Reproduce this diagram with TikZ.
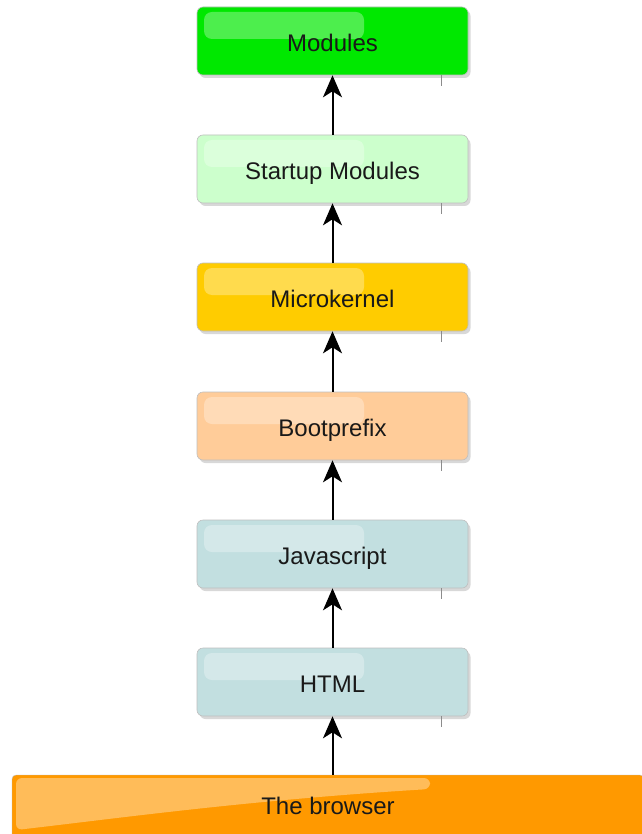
\documentclass[tikz,border=0pt]{standalone}
\usepackage{fontspec}
\setmainfont{Liberation Sans}
\usetikzlibrary{shadows,arrows.meta}
\definecolor{modgreen}{RGB}{0,232,0}
\definecolor{startgreen}{RGB}{204,255,204}
\definecolor{kernelyellow}{RGB}{255,204,0}
\definecolor{bootpeach}{RGB}{255,204,153}
\definecolor{layerblue}{RGB}{194,223,224}
\definecolor{browserorange}{RGB}{255,153,0}
\tikzset{
  label font/.style={font=\fontsize{24}{26}\selectfont,text=black!90,text height=25pt,text depth=4pt},
  layer/.style={draw=black!25,line width=0.6pt,rounded corners=6pt,minimum width=271pt,minimum height=68pt,
    label font,
    drop shadow={shadow xshift=2.5pt,shadow yshift=-3pt,opacity=.3},
    path picture={\fill[white,opacity=.3,rounded corners=8pt]
      ([xshift=7pt,yshift=-5pt]path picture bounding box.north west) rectangle ++(160pt,-27pt);}},
  up/.style={-{Stealth[length=22pt,width=19pt,inset=6pt]},line width=2pt},
  tick/.style={black!45,line width=1pt}
}
\begin{document}
\begin{tikzpicture}[x=1pt,y=-1pt]
  \useasboundingbox[fill=white] (0,0) rectangle (641,834);
  % the browser at the bottom
  \node[draw=black!25,fill=browserorange,minimum width=632pt,minimum height=64pt,inner sep=0pt,
    rounded corners=4pt] (browser) at (328,807) {};
  \fill[white,opacity=.35,rounded corners=6pt] (16,778) -- (430,778) -- (430,789) .. controls (250,800) and (120,818) .. (16,830) -- cycle;
  \node[label font] at (328,804) {The browser};
  % the stack of layers
  \node[layer,fill=layerblue] (html) at (332.5,682) {HTML};
  \node[layer,fill=layerblue] (js) at (332.5,554) {Javascript};
  \node[layer,fill=bootpeach] (boot) at (332.5,426) {Bootprefix};
  \node[layer,fill=kernelyellow] (kernel) at (332.5,297) {Microkernel};
  \node[layer,fill=startgreen] (startup) at (332.5,169) {Startup Modules};
  \node[layer,fill=modgreen] (modules) at (332.5,41) {Modules};
  % small marks under the boxes
  \foreach \n in {modules,startup,kernel,boot,js,html}
    \draw[tick] ([xshift=-27pt]\n.south east) -- ++(0,11);
  % arrows going up
  \draw[up] (browser.north -| html.south) -- (html.south);
  \draw[up] (html) -- (js);
  \draw[up] (js) -- (boot);
  \draw[up] (boot) -- (kernel);
  \draw[up] (kernel) -- (startup);
  \draw[up] (startup) -- (modules);
\end{tikzpicture}
\end{document}
